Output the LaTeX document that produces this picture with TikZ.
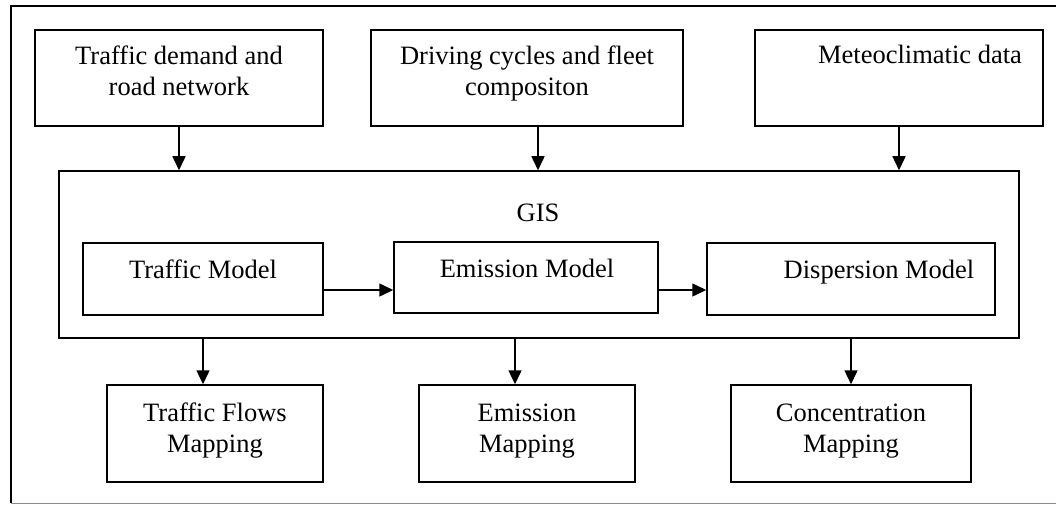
\documentclass[tikz,border=0pt]{standalone}
\usepackage{fontspec}
\setmainfont{Liberation Serif}
\usetikzlibrary{arrows.meta}
\begin{document}
\begin{tikzpicture}[x=1pt,y=-1pt,
  box/.style={draw, line width=1.5pt, inner sep=0pt},
  lbl/.style={anchor=base, inner sep=0pt, font=\fontsize{26.5}{31}\selectfont},
  arr/.style={line width=1.5pt, -{Triangle[length=14pt,width=13pt]}}]
\useasboundingbox (0,0) rectangle (1056,505);
% outer frame
\coordinate (ftl) at (11,6);
\coordinate (ftr) at (1056,6);
\coordinate (fbl) at (11,503);
\coordinate (fbr) at (1056,503);
\draw[line width=1.3pt] (ftr) -- (ftl) -- (fbl);
\draw[line width=1pt, black!45] (fbl) -- (fbr);
% input boxes
\node[box, minimum width=288pt, minimum height=96pt] (b1) at (179,78) {};
\node[box, minimum width=312pt, minimum height=96pt] (b2) at (527,78) {};
\node[box, minimum width=288pt, minimum height=96pt] (b3) at (899,78) {};
\node[lbl] (t1) at (179,65) {\begin{tabular}[t]{@{}c@{}}Traffic demand and\\road network\end{tabular}};
\node[lbl] (t2) at (527,65) {\begin{tabular}[t]{@{}c@{}}Driving cycles and fleet\\compositon\end{tabular}};
\node[lbl] (t3) at (920,64) {Meteoclimatic data};
% GIS
\node[box, minimum width=960pt, minimum height=167pt] (gis) at (539,254.5) {};
\node[lbl] (tg) at (538,221) {GIS};
\node[box, minimum width=240pt, minimum height=72pt] (tm) at (203,279) {};
\node[box, minimum width=264pt, minimum height=71pt] (em) at (526,277.5) {};
\node[box, minimum width=288pt, minimum height=72pt] (dm) at (851,279) {};
\node[lbl] (ttm) at (203,278) {Traffic Model};
\node[lbl] (tem) at (527,277) {Emission Model};
\node[lbl] (tdm) at (879,278) {Dispersion Model};
% outputs
\node[box, minimum width=216pt, minimum height=97pt] (tf) at (215,433.5) {};
\node[box, minimum width=216pt, minimum height=97pt] (emm) at (527,433.5) {};
\node[box, minimum width=240pt, minimum height=97pt] (cm) at (851,433.5) {};
\node[lbl] (ttf) at (215,421) {\begin{tabular}[t]{@{}c@{}}Traffic Flows\\Mapping\end{tabular}};
\node[lbl] (temm) at (527,421) {\begin{tabular}[t]{@{}c@{}}Emission\\Mapping\end{tabular}};
\node[lbl] (tcm) at (851,421) {\begin{tabular}[t]{@{}c@{}}Concentration\\Mapping\end{tabular}};
% connectors
\draw[arr] (b1.south) -- (b1.south |- gis.north);
\draw[arr] ([xshift=11pt]b2.south) -- ([xshift=11pt]b2.south |- gis.north);
\draw[arr] (b3.south) -- (b3.south |- gis.north);
\draw[arr] ([xshift=-1pt,yshift=-11pt]tm.east) -- ([yshift=-11pt]tm.east -| em.west);
\draw[arr] ([yshift=-11pt]tm.east -| em.east) -- ([yshift=-11pt]tm.east -| dm.west);
\draw[arr] (tm.center |- gis.south) -- (tm.center |- tf.north);
\draw[arr] ([xshift=-12pt]emm.north |- gis.south) -- ([xshift=-12pt]emm.north);
\draw[arr] (dm.center |- gis.south) -- (cm.north);
\end{tikzpicture}
\end{document}
